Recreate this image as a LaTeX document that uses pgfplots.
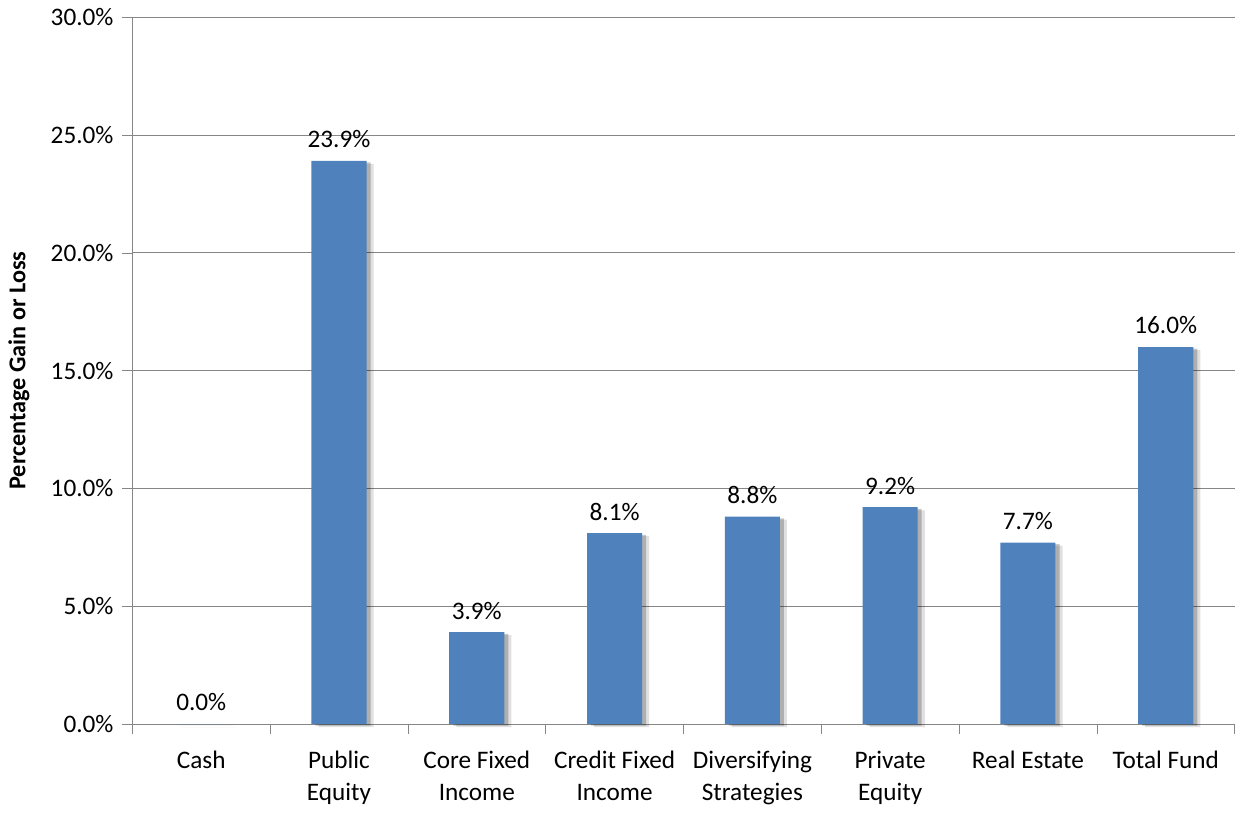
\documentclass[border=0pt]{standalone}
\usepackage{fontspec}
\setmainfont{Carlito}
\usepackage{pgfplots}
\pgfplotsset{compat=1.18}
\usetikzlibrary{shadows}
\definecolor{barBlue}{RGB}{79,129,189}
\definecolor{gridGray}{RGB}{134,134,134}

\begin{document}
\fontsize{12.5}{15}\selectfont
\begin{tikzpicture}
\begin{axis}[
    width=546.5pt, height=350.5pt,
    scale only axis,
    xmin=-0.5, xmax=7.5,
    ymin=0, ymax=30,
    axis x line=bottom, axis y line=left,
    axis line style={gridGray, -},
    xtick={0,...,7},
    xticklabels={Cash,{Public\\Equity},{Core Fixed\\Income},{Credit Fixed\\Income},{Diversifying\\Strategies},{Private\\Equity},Real Estate,Total Fund},
    xticklabel style={align=center, anchor=north, yshift=-4pt, font=\fontsize{12.5}{16}\selectfont},
    major x tick style={draw=none},
    minor xtick={-0.5,0.5,...,7.5},
    minor x tick style={gridGray},
    minor tick length=5pt,
    ytick={0,5,...,30},
    ymajorgrids,
    grid style={gridGray},
    major y tick style={gridGray},
    major tick length=5pt,
    tick align=outside,
    /pgf/number format/assume math mode=true,
    yticklabel={\pgfmathprintnumber[fixed,fixed zerofill,precision=1]{\tick}\%},
    yticklabel style={font=\fontsize{12.5}{15}\selectfont},
    ylabel={\bfseries Percentage Gain or Loss},
    ylabel style={font=\fontsize{12}{14}\selectfont, yshift=2pt},
    ybar, bar width=0.4,
    nodes near coords={\pgfmathprintnumber[fixed,fixed zerofill,precision=1]{\pgfplotspointmeta}\%},
    every node near coord/.append style={font=\fontsize{12.5}{15}\selectfont, black, anchor=south, yshift=2pt},
    clip=false,
]
\addplot[draw=none, fill=barBlue,
    general shadow={shadow xshift=3.5pt, shadow yshift=-1.5pt, fill=black, opacity=0.12},
    general shadow={shadow xshift=2pt, shadow yshift=-0.8pt, fill=black, opacity=0.22}]
coordinates {
    (0,0.0) (1,23.9) (2,3.9) (3,8.1) (4,8.8) (5,9.2) (6,7.7) (7,16.0)
};
\end{axis}
\end{tikzpicture}
\end{document}
